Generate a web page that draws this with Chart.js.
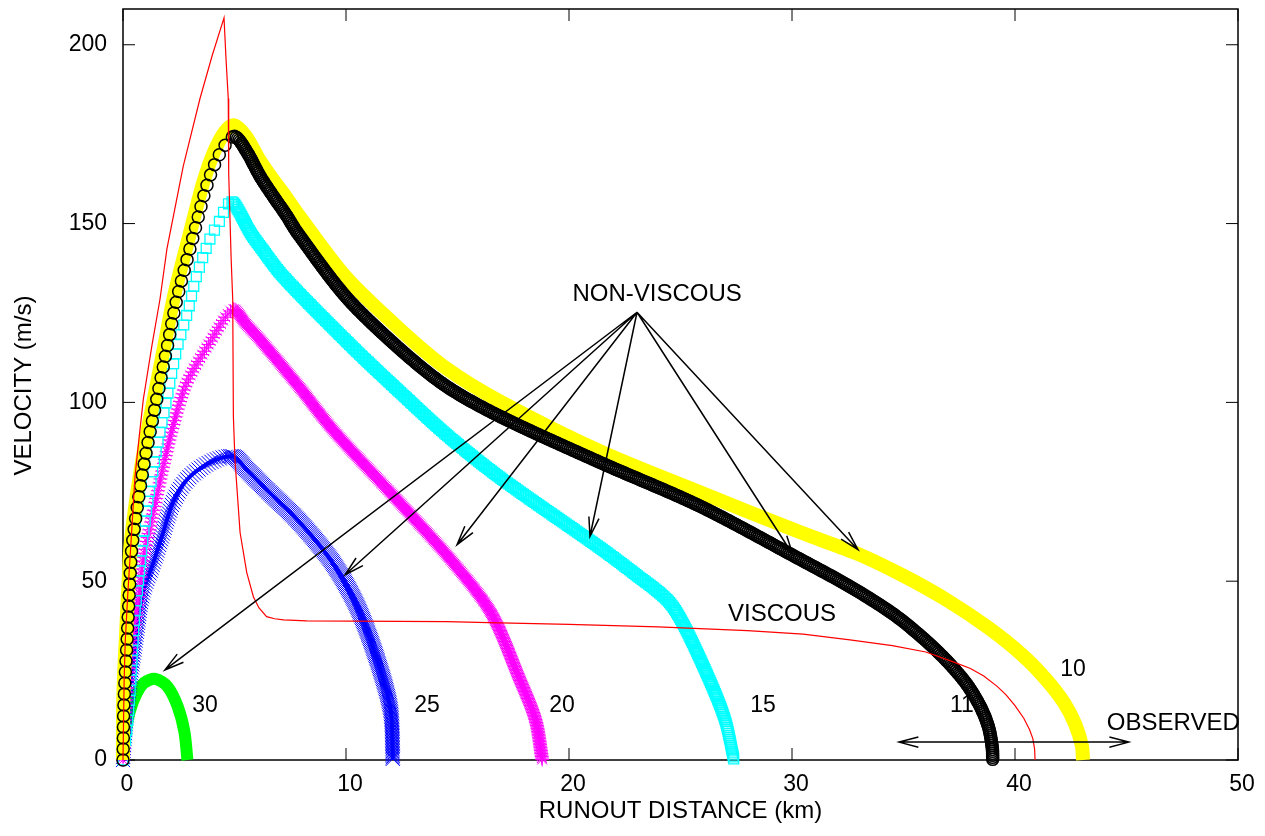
<!DOCTYPE html>
<html>
<head>
<meta charset="utf-8">
<script src="https://cdn.jsdelivr.net/npm/chart.js@4.4.1/dist/chart.umd.min.js"></script>
<style>
html, body { margin: 0; padding: 0; background: #fff; }
canvas { display: block; }
</style>
</head>
<body>
<canvas id="js-runout-chart" width="1265" height="836"></canvas>
<script>
// axis ticks
const xTicks = [0, 10, 20, 30, 40, 50];
const yTicks = [0, 50, 100, 150, 200];

// runout distance (km) and velocity (m/s)
const viscousX = [0, 0.05, 0.1, 0.22, 0.38, 0.54, 0.72, 0.91, 1.3, 1.66, 1.97, 2.7, 3.45, 4.0, 4.53, 4.62, 4.72, 4.74, 4.85, 4.92, 4.95, 5.02, 5.25, 5.55, 5.85, 6.1, 6.44, 6.8, 7.2, 8.24, 14.5, 16.4, 20, 24, 28, 30.5, 32.6, 34.5, 36.0, 37.2, 38.0, 38.6, 39.2, 39.6, 40.0, 40.4, 40.65, 40.8, 40.88, 40.9];
const viscousV = [0, 22, 33, 47, 63, 79.4, 90, 100.8, 116, 128.9, 142.9, 166, 184.9, 197, 207.5, 196, 185, 164, 140, 128.9, 96, 84, 63.6, 52.4, 45.6, 42.5, 40.1, 39.5, 39.2, 38.9, 38.7, 38.4, 37.9, 37.2, 36.2, 35.2, 33.6, 32, 30.2, 27.5, 25.6, 23.5, 20.6, 18.2, 15.2, 11.6, 8.5, 6, 3, 0];

const run10X = [0, 0, 0.05, 0.12, 0.19, 0.26, 0.34, 0.62, 0.98, 1.42, 1.86, 2.3, 3.03, 3.62, 4.08, 4.55, 4.95, 5.5, 6.1, 6.7, 7.3, 7.8, 10.0, 12.4, 14.5, 16.9, 21.4, 25.9, 30.4, 33.0, 35.0, 37.0, 38.8, 40.3, 41.4, 42.2, 42.7, 43.0, 43.05];
const run10V = [0, 14, 24, 33, 42, 51, 60, 74, 88, 102, 116, 130, 148, 162, 170, 175.5, 177.5, 174.5, 168, 162.5, 157.5, 153, 135, 120.5, 109.5, 100.3, 86.3, 74.8, 63.6, 57.5, 51.5, 44.5, 37, 29.5, 22.5, 16, 10, 4, 0];

const run11X = [0, 0.01, 0.03, 0.09, 0.17, 0.24, 0.31, 0.39, 0.69, 1.06, 1.51, 1.96, 2.41, 3.15, 3.75, 4.2, 4.65, 5.02, 5.56, 6.14, 6.73, 7.35, 7.8, 10.0, 12.4, 14.5, 16.9, 21.4, 25.9, 30.4, 32.6, 34.5, 35.8, 36.9, 37.8, 38.4, 38.8, 38.98, 39.0];
const run11V = [0, 3.7, 13.1, 22.4, 31.7, 41.1, 50.4, 58.8, 72.8, 86.7, 100.7, 114.7, 128.7, 146.4, 160.4, 167.8, 172.5, 174.4, 170, 163.3, 157.7, 152.1, 147.6, 129.5, 115, 104.5, 96.1, 83.2, 70.9, 56, 48.5, 41, 34.5, 28, 21.5, 15.5, 9.5, 3.5, 0];

const run15X = [0, 0.2, 0.35, 0.45, 0.55, 0.69, 0.84, 1.13, 1.51, 1.96, 2.41, 2.93, 3.3, 3.9, 4.4, 4.65, 4.93, 5.7, 6.14, 7.17, 10.2, 12.4, 14.5, 16.9, 21.4, 22.9, 24.4, 25.1, 26.3, 27.0, 27.4];
const run15V = [0, 10, 22, 33, 42, 49.5, 58.8, 72.8, 86.8, 100.8, 114.8, 126, 135.4, 145.7, 151.5, 155, 156, 147.6, 143.7, 135.3, 116, 103, 91, 79, 59.3, 52.3, 44.8, 38.3, 22.4, 11.2, 0];

const run20X = [0, 0.1, 0.25, 0.5, 0.7, 0.9, 1.35, 1.8, 2.24, 2.86, 3.9, 4.93, 5.5, 6.14, 7.94, 9.4, 12.4, 14.7, 16.5, 17.8, 18.5, 18.8];
const run20V = [0, 12, 24, 37, 45, 56, 69, 82, 93.3, 105.5, 116.8, 126, 122, 117.6, 104, 92.4, 72, 56, 41.2, 22.4, 11.2, 0];

const run25X = [0, 0.15, 0.4, 0.63, 0.9, 1.35, 1.8, 2.24, 2.87, 3.9, 4.93, 5.5, 6.44, 7.94, 9.4, 10.5, 11.4, 12.0, 12.1];
const run25V = [0, 12, 26, 36.4, 47, 55, 63.6, 72, 78.4, 83.2, 84.9, 81.5, 75.6, 66.4, 55.2, 43, 28, 14, 0];

const run30X = [0, 0.1, 0.3, 0.6, 0.95, 1.45, 2.0, 2.45, 2.75, 2.89];
const run30V = [0, 7, 13.5, 18.5, 21.6, 22.7, 20.5, 15, 8, 0];

// text on the plot, at data positions
const noteText = ["NON-VISCOUS", "VISCOUS", "30", "25", "20", "15", "11", "10", "OBSERVED"];
const noteX = [23.95, 29.55, 3.68, 13.63, 19.69, 28.7, 37.62, 42.6, 47.1];
const noteV = [130.3, 40.6, 15.1, 15.1, 15.1, 15.1, 15.1, 25.2, 10.2];

// arrows from NON-VISCOUS to the curves
const arrowFrom = [23.05, 125.2];
const arrowToX = [1.88, 9.96, 14.98, 20.94, 30.04, 32.96];
const arrowToV = [25.2, 51.8, 60.2, 62.5, 57.4, 58.8];
// OBSERVED range arrow
const observedX = [34.8, 45.1];
const observedV = 5.0;

const pts = (xs, vs) => xs.map((x, i) => ({ x: x, y: vs[i] }));

const drawMark = (ctx, st, x, y) => {
    const o = { pointStyle: st.shape, radius: st.r, rotation: 0, borderWidth: st.lw };
    if (Chart.helpers && Chart.helpers.drawPoint) {
        Chart.helpers.drawPoint(ctx, o, x, y);
        return;
    }
    ctx.beginPath();
    if (st.shape === "circle") ctx.arc(x, y, st.r, 0, Math.PI * 2);
    else if (st.shape === "rect") { const s = st.r * Math.SQRT1_2; ctx.rect(x - s, y - s, 2 * s, 2 * s); }
    else {
        const d = st.r * Math.SQRT1_2;
        ctx.moveTo(x - d, y - d); ctx.lineTo(x + d, y + d);
        ctx.moveTo(x - d, y + d); ctx.lineTo(x + d, y - d);
        if (st.shape === "star") { ctx.moveTo(x - st.r, y); ctx.lineTo(x + st.r, y); ctx.moveTo(x, y - st.r); ctx.lineTo(x, y + st.r); }
    }
    ctx.stroke();
};

// follow the library's bezier between the point elements
const curvePath = (els) => {
    const out = [{ x: els[0].x, y: els[0].y }];
    for (let i = 1; i < els.length; i++) {
        const a = els[i - 1], b = els[i];
        const c1x = a.cp2x ?? a.x, c1y = a.cp2y ?? a.y;
        const c2x = b.cp1x ?? b.x, c2y = b.cp1y ?? b.y;
        for (let k = 1; k <= 16; k++) {
            const t = k / 16, u = 1 - t;
            out.push({
                x: u * u * u * a.x + 3 * u * u * t * c1x + 3 * u * t * t * c2x + t * t * t * b.x,
                y: u * u * u * a.y + 3 * u * u * t * c1y + 3 * u * t * t * c2y + t * t * t * b.y,
            });
        }
    }
    return out;
};

// gnuplot draws a marker at every time step: dense when slow, spread out while accelerating
const drawTrail = (ctx, els, st) => {
    const path = curvePath(els);
    ctx.save();
    ctx.strokeStyle = st.color;
    ctx.fillStyle = "rgba(0,0,0,0)";
    ctx.lineWidth = st.lw;
    let carry = 0;
    drawMark(ctx, st, path[0].x, path[0].y);
    for (let i = 1; i < path.length; i++) {
        const a = path[i - 1], b = path[i];
        const dx = b.x - a.x, dy = b.y - a.y;
        const len = Math.hypot(dx, dy);
        if (len === 0) continue;
        const gap = dy < 0 ? st.up : st.down;
        let d = Math.max(0, gap - carry);
        while (d <= len) {
            drawMark(ctx, st, a.x + dx * d / len, a.y + dy * d / len);
            d += gap;
        }
        carry = len - (d - gap);
    }
    ctx.restore();
};

const arrowHead = (ctx, x0, y0, x1, y1) => {
    const a = Math.atan2(y1 - y0, x1 - x0), len = 20, w = 0.26;
    ctx.moveTo(x1 - len * Math.cos(a - w), y1 - len * Math.sin(a - w));
    ctx.lineTo(x1, y1);
    ctx.lineTo(x1 - len * Math.cos(a + w), y1 - len * Math.sin(a + w));
};

const decorations = {
    id: "decorations",
    beforeDatasetsDraw(chart) {
        const { ctx, chartArea: ca, scales: { x, y } } = chart;
        ctx.save();
        // frame and inward tics on all four sides
        ctx.strokeStyle = "#000";
        ctx.lineWidth = 1.5;
        ctx.strokeRect(ca.left, ca.top, ca.right - ca.left, ca.bottom - ca.top);
        ctx.lineWidth = 1;
        ctx.beginPath();
        xTicks.forEach((t) => {
            const px = x.getPixelForValue(t);
            ctx.moveTo(px, ca.bottom); ctx.lineTo(px, ca.bottom - 12);
            ctx.moveTo(px, ca.top); ctx.lineTo(px, ca.top + 12);
        });
        yTicks.forEach((t) => {
            const py = y.getPixelForValue(t);
            ctx.moveTo(ca.left, py); ctx.lineTo(ca.left + 12, py);
            ctx.moveTo(ca.right, py); ctx.lineTo(ca.right - 12, py);
        });
        ctx.stroke();
        // annotations sit under the curves ("11" is half hidden)
        ctx.fillStyle = "#000";
        ctx.textAlign = "center";
        ctx.textBaseline = "middle";
        noteText.forEach((t, i) => {
            ctx.font = (/^\d/.test(t) ? "23px" : "24px") + ' "Liberation Sans", Arial, sans-serif';
            ctx.fillText(t, x.getPixelForValue(noteX[i]), y.getPixelForValue(noteV[i]));
        });
        // axis titles
        ctx.font = '24px "Liberation Sans", Arial, sans-serif';
        ctx.fillText("RUNOUT DISTANCE (km)", (ca.left + ca.right) / 2, 811);
        ctx.save();
        ctx.translate(24, (ca.top + ca.bottom) / 2 + 1);
        ctx.rotate(-Math.PI / 2);
        ctx.fillText("VELOCITY (m/s)", 0, 0);
        ctx.restore();
        ctx.restore();
    },
    afterDatasetDraw(chart, args) {
        const ds = chart.data.datasets[args.index];
        if (ds.trail) drawTrail(chart.ctx, args.meta.data, ds.trail);
    },
    afterDatasetsDraw(chart) {
        const { ctx, scales: { x, y } } = chart;
        ctx.save();
        ctx.strokeStyle = "#000";
        ctx.lineWidth = 1.5;
        ctx.beginPath();
        const fx = x.getPixelForValue(arrowFrom[0]), fy = y.getPixelForValue(arrowFrom[1]);
        arrowToX.forEach((ax, i) => {
            const tx = x.getPixelForValue(ax), ty = y.getPixelForValue(arrowToV[i]);
            ctx.moveTo(fx, fy);
            ctx.lineTo(tx, ty);
            arrowHead(ctx, fx, fy, tx, ty);
        });
        const ox0 = x.getPixelForValue(observedX[0]), ox1 = x.getPixelForValue(observedX[1]);
        const oy = y.getPixelForValue(observedV);
        ctx.moveTo(ox0, oy);
        ctx.lineTo(ox1, oy);
        arrowHead(ctx, ox1, oy, ox0, oy);
        arrowHead(ctx, ox0, oy, ox1, oy);
        ctx.stroke();
        ctx.restore();
    },
};

Chart.defaults.font.family = '"Liberation Sans", Arial, sans-serif';
Chart.defaults.color = "#000";

const hidden = "rgba(0,0,0,0)";

const chart = new Chart(document.getElementById("js-runout-chart").getContext("2d"), {
    type: "line",
    data: {
        datasets: [
            {
                label: "viscous",
                data: pts(viscousX, viscousV),
                borderColor: "#ff0000",
                borderWidth: 1.2,
                pointRadius: 0,
                tension: 0,
                clip: false,
            },
            {
                label: "11",
                data: pts(run11X, run11V),
                borderColor: hidden,
                borderWidth: 1,
                tension: 0.3,
                pointRadius: 0,
                clip: false,
                trail: { shape: "circle", r: 6, lw: 1.5, color: "#000000", up: 11, down: 2 },
            },
            {
                label: "10",
                data: pts(run10X, run10V),
                borderColor: "#ffff00",
                borderWidth: 14,
                borderCapStyle: "butt",
                borderJoinStyle: "round",
                tension: 0.3,
                pointRadius: 0,
                clip: false,
            },
            {
                label: "15",
                data: pts(run15X, run15V),
                borderColor: hidden,
                borderWidth: 1,
                tension: 0.3,
                pointRadius: 0,
                clip: false,
                trail: { shape: "rect", r: 7, lw: 1.3, color: "#00ffff", up: 10, down: 2 },
            },
            {
                label: "20",
                data: pts(run20X, run20V),
                borderColor: hidden,
                borderWidth: 1,
                tension: 0.3,
                pointRadius: 0,
                clip: false,
                trail: { shape: "star", r: 7, lw: 1, color: "#ff00ff", up: 4, down: 1.5 },
            },
            {
                label: "25",
                data: pts(run25X, run25V),
                borderColor: "#0000ff",
                borderWidth: 4,
                tension: 0.3,
                pointRadius: 0,
                clip: false,
                trail: { shape: "crossRot", r: 10, lw: 1, color: "#0000ff", up: 3, down: 1.5 },
            },
            {
                label: "30",
                data: pts(run30X, run30V),
                borderColor: "#00ff00",
                borderWidth: 12,
                borderCapStyle: "butt",
                borderJoinStyle: "round",
                tension: 0.3,
                pointRadius: 0,
                clip: false,
            },
        ],
    },
    options: {
        responsive: false,
        animation: false,
        events: [],
        devicePixelRatio: 1,
        layout: { padding: { top: 9, right: 27, left: 0, bottom: 0 } },
        plugins: { legend: { display: false }, tooltip: { enabled: false } },
        scales: {
            x: {
                type: "linear",
                min: 0,
                max: 50,
                afterFit: (s) => { s.height = 76; s.paddingLeft = 0; s.paddingRight = 0; },
                afterBuildTicks: (s) => { s.ticks = xTicks.map((v) => ({ value: v })); },
                grid: { display: false, drawTicks: false },
                border: { display: false },
                ticks: { padding: 11, labelOffset: 4, maxRotation: 0, autoSkip: false, font: { size: 23 } },
            },
            y: {
                type: "linear",
                min: 0,
                max: 210,
                afterFit: (s) => { s.width = 123; s.paddingTop = 0; s.paddingBottom = 0; },
                afterBuildTicks: (s) => { s.ticks = yTicks.map((v) => ({ value: v })); },
                grid: { display: false, drawTicks: false },
                border: { display: false },
                ticks: { padding: 16, font: { size: 23 } },
            },
        },
    },
    plugins: [decorations],
});
</script>
</body>
</html>
